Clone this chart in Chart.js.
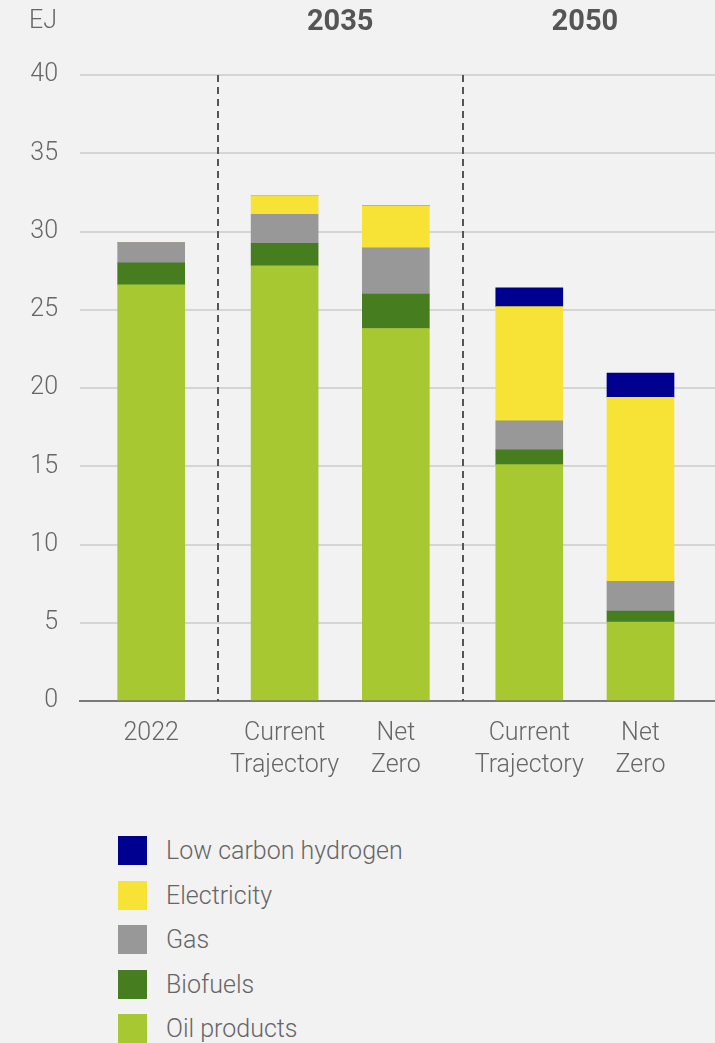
<!DOCTYPE html>
<html>
<head>
<meta charset="utf-8">
<script src="https://cdn.jsdelivr.net/npm/chart.js@4/dist/chart.umd.min.js"></script>
<style>
  html, body { margin: 0; padding: 0; background: #f2f2f2; }
  body { width: 715px; height: 1043px; overflow: hidden; font-family: Roboto, "Noto Sans", sans-serif; }
  #wrap { position: relative; width: 715px; height: 800px; }
  #legend { margin: 36px 0 0 118px; padding: 0; list-style: none; }
  #legend li { display: flex; align-items: center; height: 29px; margin-bottom: 15.5px; font-size: 25px; font-weight: 300; color: #666; }
  #legend i { display: inline-block; width: 29px; height: 29px; margin-right: 19px; }
</style>
</head>
<body>
<div id="wrap"><canvas id="chart1"></canvas></div>
<ul id="legend"></ul>
<script>
// 类别（每个标签拆成多行）
const categories = [['2022'], ['Current', 'Trajectory'], ['Net', 'Zero'], ['Current', 'Trajectory'], ['Net', 'Zero']];
// 每个类别所属的分组
const groupIndex = [0, 1, 1, 2, 2];
const groupLabels = ['', '2035', '2050'];

// 各能源数据 (EJ)
const oilProducts = [26.6, 27.8, 23.8, 15.1, 5.05];
const biofuels = [1.4, 1.45, 2.2, 0.95, 0.7];
const gas = [1.3, 1.85, 2.95, 1.85, 1.9];
const electricity = [0, 1.2, 2.7, 7.3, 11.75];
const lowCarbonHydrogen = [0, 0, 0, 1.2, 1.55];

const yTicks = [0, 5, 10, 15, 20, 25, 30, 35, 40];

// 分组之间的额外间距
const GROUP_GAP = 0.2;
const xPos = categories.map((c, i) => i + GROUP_GAP * groupIndex[i]);

function series(values) {
    return values.map((v, i) => ({ x: xPos[i], y: v }));
}

const datasets = [
    { label: 'Oil products', data: series(oilProducts), backgroundColor: '#a8c832' },
    { label: 'Biofuels', data: series(biofuels), backgroundColor: '#467e1f' },
    { label: 'Gas', data: series(gas), backgroundColor: '#989898' },
    { label: 'Electricity', data: series(electricity), backgroundColor: '#f7e336' },
    { label: 'Low carbon hydrogen', data: series(lowCarbonHydrogen), backgroundColor: '#000090' }
];

const FONT = 'Roboto, "Noto Sans", sans-serif';

// 顶部分组标题、单位和虚线分隔
const overlayPlugin = {
    id: 'overlay',
    afterDatasetsDraw(chart) {
        const ctx = chart.ctx;
        const x = chart.scales.x;
        const y = chart.scales.y;
        ctx.save();
        // 虚线分隔
        ctx.strokeStyle = '#555';
        ctx.lineWidth = 2;
        ctx.setLineDash([7, 5]);
        for (let i = 1; i < xPos.length; i++) {
            if (groupIndex[i] !== groupIndex[i - 1]) {
                const px = Math.round(x.getPixelForValue((xPos[i] + xPos[i - 1]) / 2));
                ctx.beginPath();
                ctx.moveTo(px, y.getPixelForValue(40));
                ctx.lineTo(px, y.getPixelForValue(0));
                ctx.stroke();
            }
        }
        ctx.setLineDash([]);
        // 分组标题
        ctx.fillStyle = '#555';
        ctx.font = 'bold 29px ' + FONT;
        ctx.textAlign = 'center';
        ctx.textBaseline = 'middle';
        groupLabels.forEach((g, gi) => {
            if (!g) return;
            const members = xPos.filter((p, i) => groupIndex[i] === gi);
            const cx = x.getPixelForValue((members[0] + members[members.length - 1]) / 2);
            ctx.fillText(g, cx, 23);
        });
        // 单位
        ctx.fillStyle = '#666';
        ctx.font = '300 25px ' + FONT;
        ctx.textAlign = 'left';
        ctx.fillText('EJ', 29, 22);
        ctx.restore();
    }
};

const ctx = document.getElementById('chart1').getContext('2d');
const chart = new Chart(ctx, {
    type: 'bar',
    data: { datasets: datasets },
    options: {
        responsive: true,
        maintainAspectRatio: false,
        animation: false,
        barThickness: 67,
        layout: { padding: { top: 75, left: 0, right: 0, bottom: 0 } },
        scales: {
            x: {
                type: 'linear',
                stacked: true,
                offset: false,
                min: -0.64,
                max: 5.07,
                afterBuildTicks: (axis) => {
                    axis.ticks = xPos.map(v => ({ value: v }));
                },
                afterFit: (axis) => { axis.height = 99; },
                grid: { display: false, drawTicks: false },
                border: { display: true, color: '#7a7a7a', width: 2 },
                ticks: {
                    autoSkip: false,
                    maxRotation: 0,
                    padding: 17,
                    color: '#666',
                    font: { family: FONT, size: 25, weight: '300', lineHeight: 1.28 },
                    callback: (value, index) => categories[index]
                }
            },
            y: {
                stacked: true,
                min: 0,
                max: 40,
                afterBuildTicks: (axis) => {
                    axis.ticks = yTicks.map(v => ({ value: v }));
                },
                afterFit: (axis) => { axis.width = 80; },
                grid: { color: '#d5d5d5', lineWidth: 2, drawTicks: false },
                border: { display: false },
                ticks: {
                    padding: 22,
                    color: '#666',
                    font: { family: FONT, size: 25, weight: '300' }
                }
            }
        },
        plugins: {
            legend: { display: false },
            tooltip: { enabled: false }
        }
    },
    plugins: [overlayPlugin]
});

// 图例（自上而下与堆叠顺序相反）
const legendEl = document.getElementById('legend');
datasets.slice().reverse().forEach(ds => {
    const li = document.createElement('li');
    li.innerHTML = '<i style="background:' + ds.backgroundColor + '"></i>' + ds.label;
    legendEl.appendChild(li);
});
</script>
</body>
</html>
